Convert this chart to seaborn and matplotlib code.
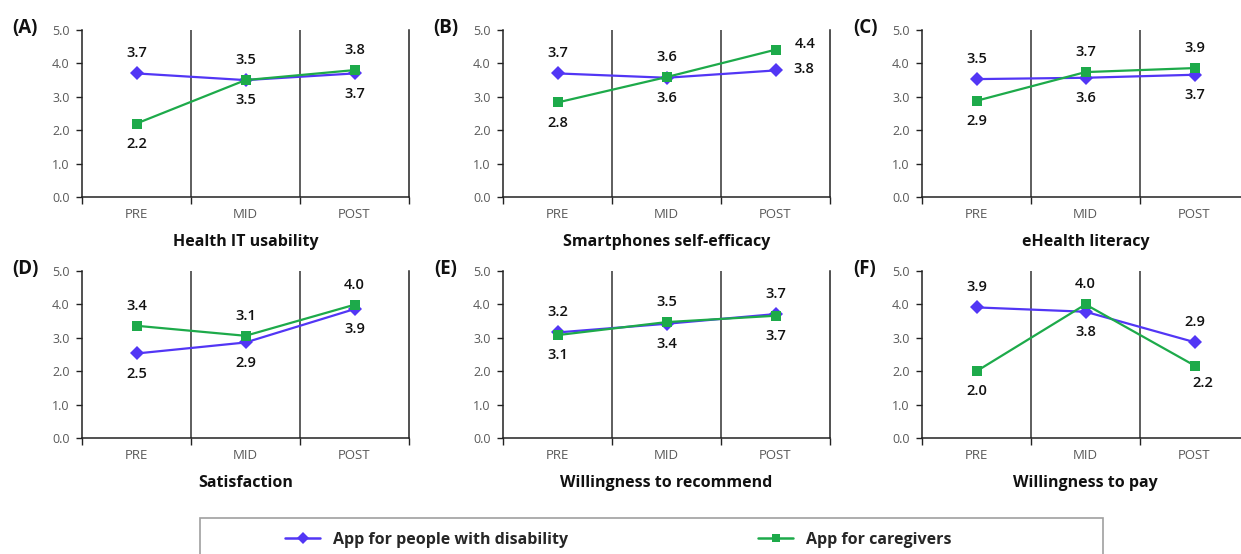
import matplotlib
matplotlib.use("Agg")
import matplotlib.pyplot as plt
import seaborn as sns
import pandas as pd
from matplotlib.patches import Rectangle
from matplotlib.lines import Line2D

# ---------------- data ----------------
timepoints = ["PRE", "MID", "POST"]
panel_tags = ["(A)", "(B)", "(C)", "(D)", "(E)", "(F)"]
panel_titles = ["Health IT usability", "Smartphones self-efficacy", "eHealth literacy",
                "Satisfaction", "Willingness to recommend", "Willingness to pay"]
series_names = ["App for people with disability", "App for caregivers"]

disability_a = [3.70, 3.50, 3.70]
caregivers_a = [2.20, 3.50, 3.80]
disability_b = [3.70, 3.57, 3.79]
caregivers_b = [2.83, 3.59, 4.41]
disability_c = [3.53, 3.57, 3.66]
caregivers_c = [2.88, 3.74, 3.86]
disability_d = [2.53, 2.86, 3.86]
caregivers_d = [3.36, 3.06, 3.99]
disability_e = [3.16, 3.42, 3.71]
caregivers_e = [3.08, 3.47, 3.66]
disability_f = [3.91, 3.78, 2.87]
caregivers_f = [2.00, 4.00, 2.17]

disability_all = [disability_a, disability_b, disability_c, disability_d, disability_e, disability_f]
caregivers_all = [caregivers_a, caregivers_b, caregivers_c, caregivers_d, caregivers_e, caregivers_f]

# label placement per point (layout only)
place_dis = [["up", "down", "down"], ["up", "down", "right"], ["up", "down", "down"],
             ["down", "down", "down"], ["up", "down", "up"], ["up", "down", "up"]]
place_car = [["down", "up", "up"], ["down", "up", "rightup"], ["down", "up", "up"],
             ["up", "up", "up"], ["down", "up", "down"], ["down", "up", "downright"]]

BLUE = "#5236F5"
GREEN = "#1DAA4A"
GRAY = "#595959"

sns.set_theme(style="white")
plt.rcParams["font.family"] = ["Open Sans", "DejaVu Sans"]

W, H = 1241, 554
fig = plt.figure(figsize=(W / 100, H / 100), dpi=100)

lefts = [82, 503, 922]
rows = [(30, 197), (271, 438)]
width = 327

offsets = {"up": (0, 14.5), "down": (0, -14.5), "right": (13, 1), "rightup": (14, 4),
           "downright": (6, -12.5)}
has = {"up": "center", "down": "center", "right": "left", "rightup": "left", "downright": "center"}

for i in range(6):
    r, c = divmod(i, 3)
    top, bot = rows[r]
    ax = fig.add_axes([lefts[c] / W, 1 - bot / H, width / W, (bot - top) / H])
    df = pd.DataFrame({
        "x": [0, 1, 2] * 2,
        "y": disability_all[i] + caregivers_all[i],
        "series": [series_names[0]] * 3 + [series_names[1]] * 3,
    })
    sns.lineplot(data=df, x="x", y="y", hue="series", style="series",
                 palette=[BLUE, GREEN], markers=["D", "s"], dashes=False,
                 markersize=7.5, markeredgewidth=0, linewidth=1.6, ax=ax, legend=False)
    for vals, places in ((disability_all[i], place_dis[i]), (caregivers_all[i], place_car[i])):
        for xi, (v, p) in enumerate(zip(vals, places)):
            ax.annotate(f"{v:.1f}", (xi, v), xytext=offsets[p], textcoords="offset points",
                        ha=has[p], va="center", fontsize=10.5, fontweight="semibold", color="#111111")
    ax.set_xlim(-0.5, 2.5)
    ax.set_ylim(0, 5)
    ax.set_yticks([0, 1, 2, 3, 4, 5])
    ax.set_yticklabels([f"{t:.1f}" for t in range(6)], color=GRAY, fontsize=9)
    ax.set_xticks([-0.5, 0.5, 1.5, 2.5])
    ax.set_xticklabels([])
    ax.set_xticks([0, 1, 2], minor=True)
    ax.set_xticklabels(timepoints, minor=True, color=GRAY, fontsize=9.5)
    ax.tick_params(axis="x", which="major", direction="out", length=5, width=1, color="#222222", bottom=True)
    ax.tick_params(axis="x", which="minor", length=0, pad=8)
    ax.tick_params(axis="y", direction="out", length=4, width=1, color="#222222", left=True, pad=5)
    ax.spines["top"].set_visible(False)
    for s in ("left", "bottom", "right"):
        ax.spines[s].set_color("#222222")
        ax.spines[s].set_linewidth(1.1)
    for xv in (0.5, 1.5):
        ax.axvline(xv, color="#333333", lw=1.1, zorder=0)
    ax.set_xlabel(panel_titles[i], fontsize=11.5, fontweight="bold", color="#111111", labelpad=9)
    ax.set_ylabel("")
    ax.grid(False)
    fig.text((lefts[c] - 57) / W, 1 - (top - 2) / H, panel_tags[i], fontsize=13.5,
             fontweight="bold", ha="center", va="center", color="#111111")

# legend box
fig.patches.append(Rectangle((200 / W, -0.02), (1103 - 200) / W, (554 - 518) / H + 0.02,
                             transform=fig.transFigure, fill=False, edgecolor="#A0A0A0", lw=1.2))
handles = [Line2D([], [], color=BLUE, marker="D", markersize=6, lw=1.8, markeredgewidth=0),
           Line2D([], [], color=GREEN, marker="s", markersize=6, lw=1.8, markeredgewidth=0)]
leg = fig.legend(handles, series_names, loc="center left", bbox_to_anchor=(285 / W, 1 - 540 / H),
                 ncol=2, frameon=False, handlelength=2.2, handletextpad=0.8, columnspacing=11.9,
                 prop={"size": 11.5, "weight": "bold"}, borderaxespad=0, borderpad=0)

fig.savefig("out.png", dpi=100)
